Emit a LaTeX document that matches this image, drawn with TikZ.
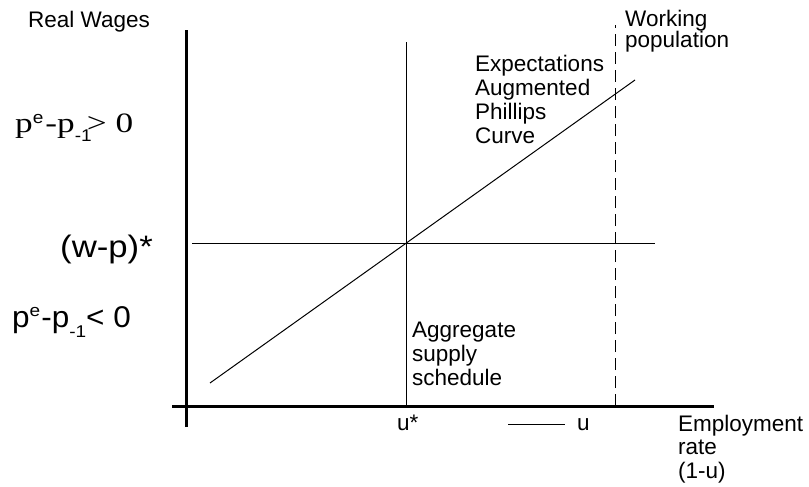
\documentclass[tikz,border=0pt]{standalone}
\usepackage{fontspec}
\setmainfont{Liberation Sans}
\newfontfamily\widesans[FakeStretch=1.12]{Liberation Sans}
\newfontfamily\gapsans[FakeStretch=1.05]{Liberation Sans}
\newfontfamily\widetimes[FakeStretch=1.26]{Liberation Serif}
\newcommand{\smallsf}{\widesans\fontsize{17}{17}\selectfont}
\begin{document}
\begin{tikzpicture}[x=1pt,y=-1pt,
    lbl/.style={anchor=base west,inner sep=0pt,align=left,
      font=\fontsize{22.5}{24}\selectfont},
    biglbl/.style={anchor=base west,inner sep=0pt},
    axisline/.style={line width=3pt},
    thinline/.style={line width=1pt},
    dashline/.style={line width=1pt,dash pattern=on 12pt off 6pt}]
  \useasboundingbox (0,0) rectangle (809,487);
  % axes and schedules
  \coordinate (Y0) at (186,427);
  \coordinate (Y1) at (186,30);
  \coordinate (X0) at (172,406);
  \coordinate (X1) at (714,406);
  \coordinate (AS0) at (406,406);
  \coordinate (AS1) at (406,42);
  \coordinate (W0) at (192,243);
  \coordinate (W1) at (655,243);
  \coordinate (PC0) at (210,383);
  \coordinate (PC1) at (635,80);
  \coordinate (WP0) at (615,406);
  \coordinate (WP1) at (615,25);
  \coordinate (U0) at (508,424);
  \coordinate (U1) at (565,424);
  \path[axisline]
    (Y0) edge (Y1)
    (X0) edge (X1);
  \path[thinline]
    (AS0) edge (AS1)
    (W0) edge (W1)
    (PC0) edge (PC1)
    (U0) edge (U1);
  \path[dashline]
    (WP0) edge (WP1);
  % labels (multi-line nodes sit on their last baseline)
  \node[lbl] (RW) at (28,28) {Real Wages};
  \node[biglbl] (Pos) at (15,132) {\fontsize{28}{28}\selectfont\widetimes
    p\raisebox{9pt}{\smallsf e}\hspace{2pt}-p\rlap{\raisebox{-9pt}{\smallsf -1}}\hspace{12pt}> 0};
  \node[biglbl,font=\widesans\fontsize{31}{31}\selectfont] (WPstar) at (60,257) {(w-p)*};
  \node[biglbl,font=\gapsans\fontsize{30}{30}\selectfont] (Neg) at (12,327)
    {p\raisebox{11pt}{\smallsf e}\hspace{1pt}-p\raisebox{-10pt}{\smallsf -1}< 0};
  \node[lbl] (EAPC) at (475,143) {Expectations\\Augmented\\Phillips\\Curve};
  \node[lbl,font=\fontsize{22.5}{21}\selectfont] (WPop) at (625,48) {Working\\population};
  \node[lbl] (AS) at (412,385) {Aggregate\\supply\\schedule};
  \node[lbl] (Ustar) at (397,430) {u*};
  \node[lbl] (U) at (577,430) {u};
  \node[lbl,font=\fontsize{22.5}{23.5}\selectfont] (ER) at (678,478) {Employment\\rate\\(1-u)};
\end{tikzpicture}
\end{document}
